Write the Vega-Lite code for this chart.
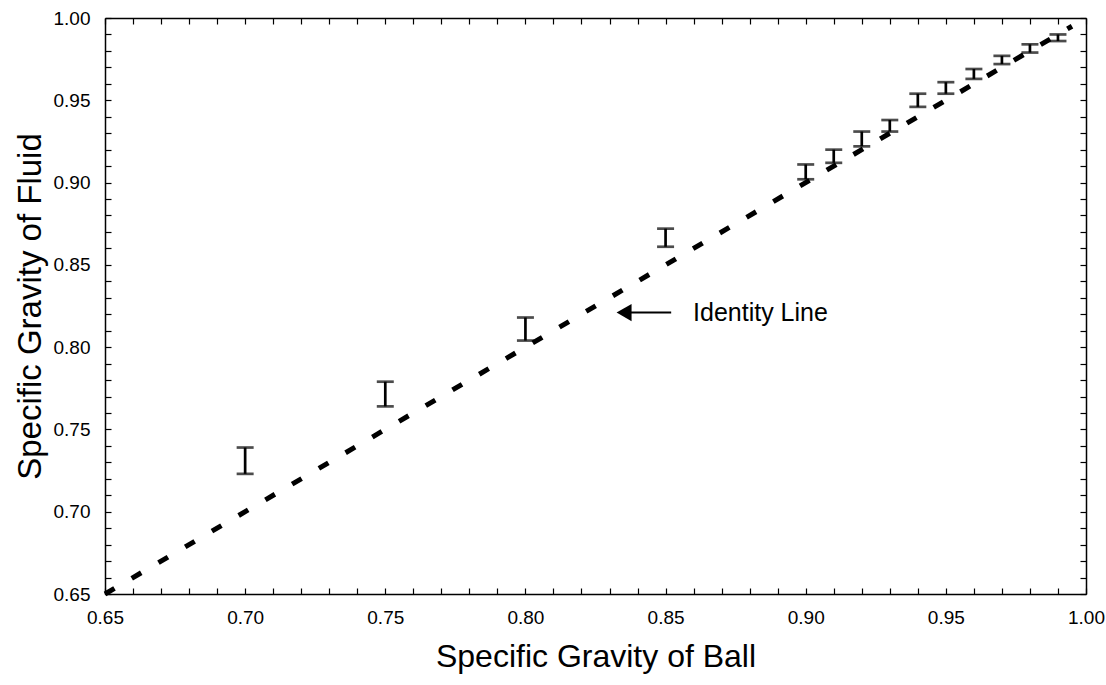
{
  "$schema": "https://vega.github.io/schema/vega-lite/v6.json",
  "width": 981,
  "height": 576,
  "autosize": "none",
  "padding": {"left": 105, "top": 18, "right": 20, "bottom": 91},
  "background": "white",
  "config": {
    "font": "Liberation Sans",
    "view": {"stroke": null},
    "axis": {
      "domainColor": "black",
      "domainWidth": 1.5,
      "tickColor": "black",
      "tickWidth": 1.2,
      "tickSize": -6,
      "grid": false,
      "labelColor": "black",
      "titleColor": "black",
      "labelFont": "Liberation Sans",
      "titleFont": "Liberation Sans",
      "titleFontWeight": "normal",
      "labelOverlap": false,
      "labelFlush": false
    }
  },
  "datasets": {
    "bars": [
      {"ball": 0.70, "lo": 0.723, "hi": 0.739},
      {"ball": 0.75, "lo": 0.764, "hi": 0.779},
      {"ball": 0.80, "lo": 0.804, "hi": 0.818},
      {"ball": 0.85, "lo": 0.861, "hi": 0.872},
      {"ball": 0.90, "lo": 0.902, "hi": 0.911},
      {"ball": 0.91, "lo": 0.912, "hi": 0.920},
      {"ball": 0.92, "lo": 0.922, "hi": 0.931},
      {"ball": 0.93, "lo": 0.931, "hi": 0.938},
      {"ball": 0.94, "lo": 0.946, "hi": 0.954},
      {"ball": 0.95, "lo": 0.954, "hi": 0.961},
      {"ball": 0.96, "lo": 0.963, "hi": 0.969},
      {"ball": 0.97, "lo": 0.972, "hi": 0.977},
      {"ball": 0.98, "lo": 0.979, "hi": 0.984},
      {"ball": 0.99, "lo": 0.986, "hi": 0.990}
    ],
    "identity": [
      {"ball": 0.65, "fluid": 0.65},
      {"ball": 0.995, "fluid": 0.995}
    ],
    "note": [
      {"x": 0.8352, "x2": 0.852, "xt": 0.8598, "y": 0.821, "label": "Identity Line"}
    ]
  },
  "layer": [
    {
      "data": {"name": "bars"},
      "mark": {
        "type": "errorbar",
        "color": "black",
        "ticks": {"size": 17, "thickness": 2.7, "color": "black"},
        "rule": {"strokeWidth": 2.7, "color": "black"}
      },
      "encoding": {
        "x": {
          "field": "ball",
          "type": "quantitative",
          "scale": {"domain": [0.65, 1.0], "nice": false, "zero": false},
          "axis": {
            "orient": "bottom",
            "title": "Specific Gravity of Ball",
            "titleFontSize": 32,
            "titlePadding": 14,
            "labelFontSize": 19,
            "labelPadding": 20,
            "values": [0.65,0.66,0.67,0.68,0.69,0.70,0.71,0.72,0.73,0.74,0.75,0.76,0.77,0.78,0.79,0.80,0.81,0.82,0.83,0.84,0.85,0.86,0.87,0.88,0.89,0.90,0.91,0.92,0.93,0.94,0.95,0.96,0.97,0.98,0.99,1.00],
            "labelExpr": "abs(datum.value*20 - round(datum.value*20)) < 0.01 ? format(datum.value, '.2f') : ''"
          }
        },
        "y": {
          "field": "lo",
          "type": "quantitative",
          "scale": {"domain": [0.65, 1.0], "nice": false, "zero": false},
          "axis": {
            "orient": "left",
            "title": "Specific Gravity of Fluid",
            "titleFontSize": 33,
            "titlePadding": 6,
            "labelFontSize": 19,
            "labelPadding": 21,
            "values": [0.65,0.66,0.67,0.68,0.69,0.70,0.71,0.72,0.73,0.74,0.75,0.76,0.77,0.78,0.79,0.80,0.81,0.82,0.83,0.84,0.85,0.86,0.87,0.88,0.89,0.90,0.91,0.92,0.93,0.94,0.95,0.96,0.97,0.98,0.99,1.00],
            "labelExpr": "abs(datum.value*20 - round(datum.value*20)) < 0.01 ? format(datum.value, '.2f') : ''"
          }
        },
        "y2": {"field": "hi"}
      }
    },
    {
      "data": {"name": "identity"},
      "mark": {"type": "line", "color": "black", "strokeWidth": 5, "strokeDash": [11, 20], "strokeCap": "butt"},
      "encoding": {
        "x": {
          "field": "ball",
          "type": "quantitative",
          "axis": {
            "orient": "top",
            "title": null,
            "labels": false,
            "values": [0.65,0.66,0.67,0.68,0.69,0.70,0.71,0.72,0.73,0.74,0.75,0.76,0.77,0.78,0.79,0.80,0.81,0.82,0.83,0.84,0.85,0.86,0.87,0.88,0.89,0.90,0.91,0.92,0.93,0.94,0.95,0.96,0.97,0.98,0.99,1.00]
          }
        },
        "y": {
          "field": "fluid",
          "type": "quantitative",
          "axis": {
            "orient": "right",
            "title": null,
            "labels": false,
            "values": [0.65,0.66,0.67,0.68,0.69,0.70,0.71,0.72,0.73,0.74,0.75,0.76,0.77,0.78,0.79,0.80,0.81,0.82,0.83,0.84,0.85,0.86,0.87,0.88,0.89,0.90,0.91,0.92,0.93,0.94,0.95,0.96,0.97,0.98,0.99,1.00]
          }
        }
      }
    },
    {
      "data": {"name": "note"},
      "mark": {"type": "rule", "color": "black", "strokeWidth": 2},
      "encoding": {
        "x": {"field": "x", "type": "quantitative", "axis": null},
        "x2": {"field": "x2"},
        "y": {"field": "y", "type": "quantitative", "axis": null}
      }
    },
    {
      "data": {"name": "note"},
      "mark": {"type": "point", "shape": "triangle-left", "filled": true, "color": "black", "size": 300, "opacity": 1},
      "encoding": {
        "x": {"field": "x", "type": "quantitative", "axis": null},
        "y": {"field": "y", "type": "quantitative", "axis": null}
      }
    },
    {
      "data": {"name": "note"},
      "mark": {"type": "text", "align": "left", "baseline": "middle", "fontSize": 25, "color": "black", "font": "Liberation Sans"},
      "encoding": {
        "x": {"field": "xt", "type": "quantitative", "axis": null},
        "y": {"field": "y", "type": "quantitative", "axis": null},
        "text": {"field": "label"}
      }
    }
  ],
  "resolve": {"axis": {"x": "independent", "y": "independent"}}
}
